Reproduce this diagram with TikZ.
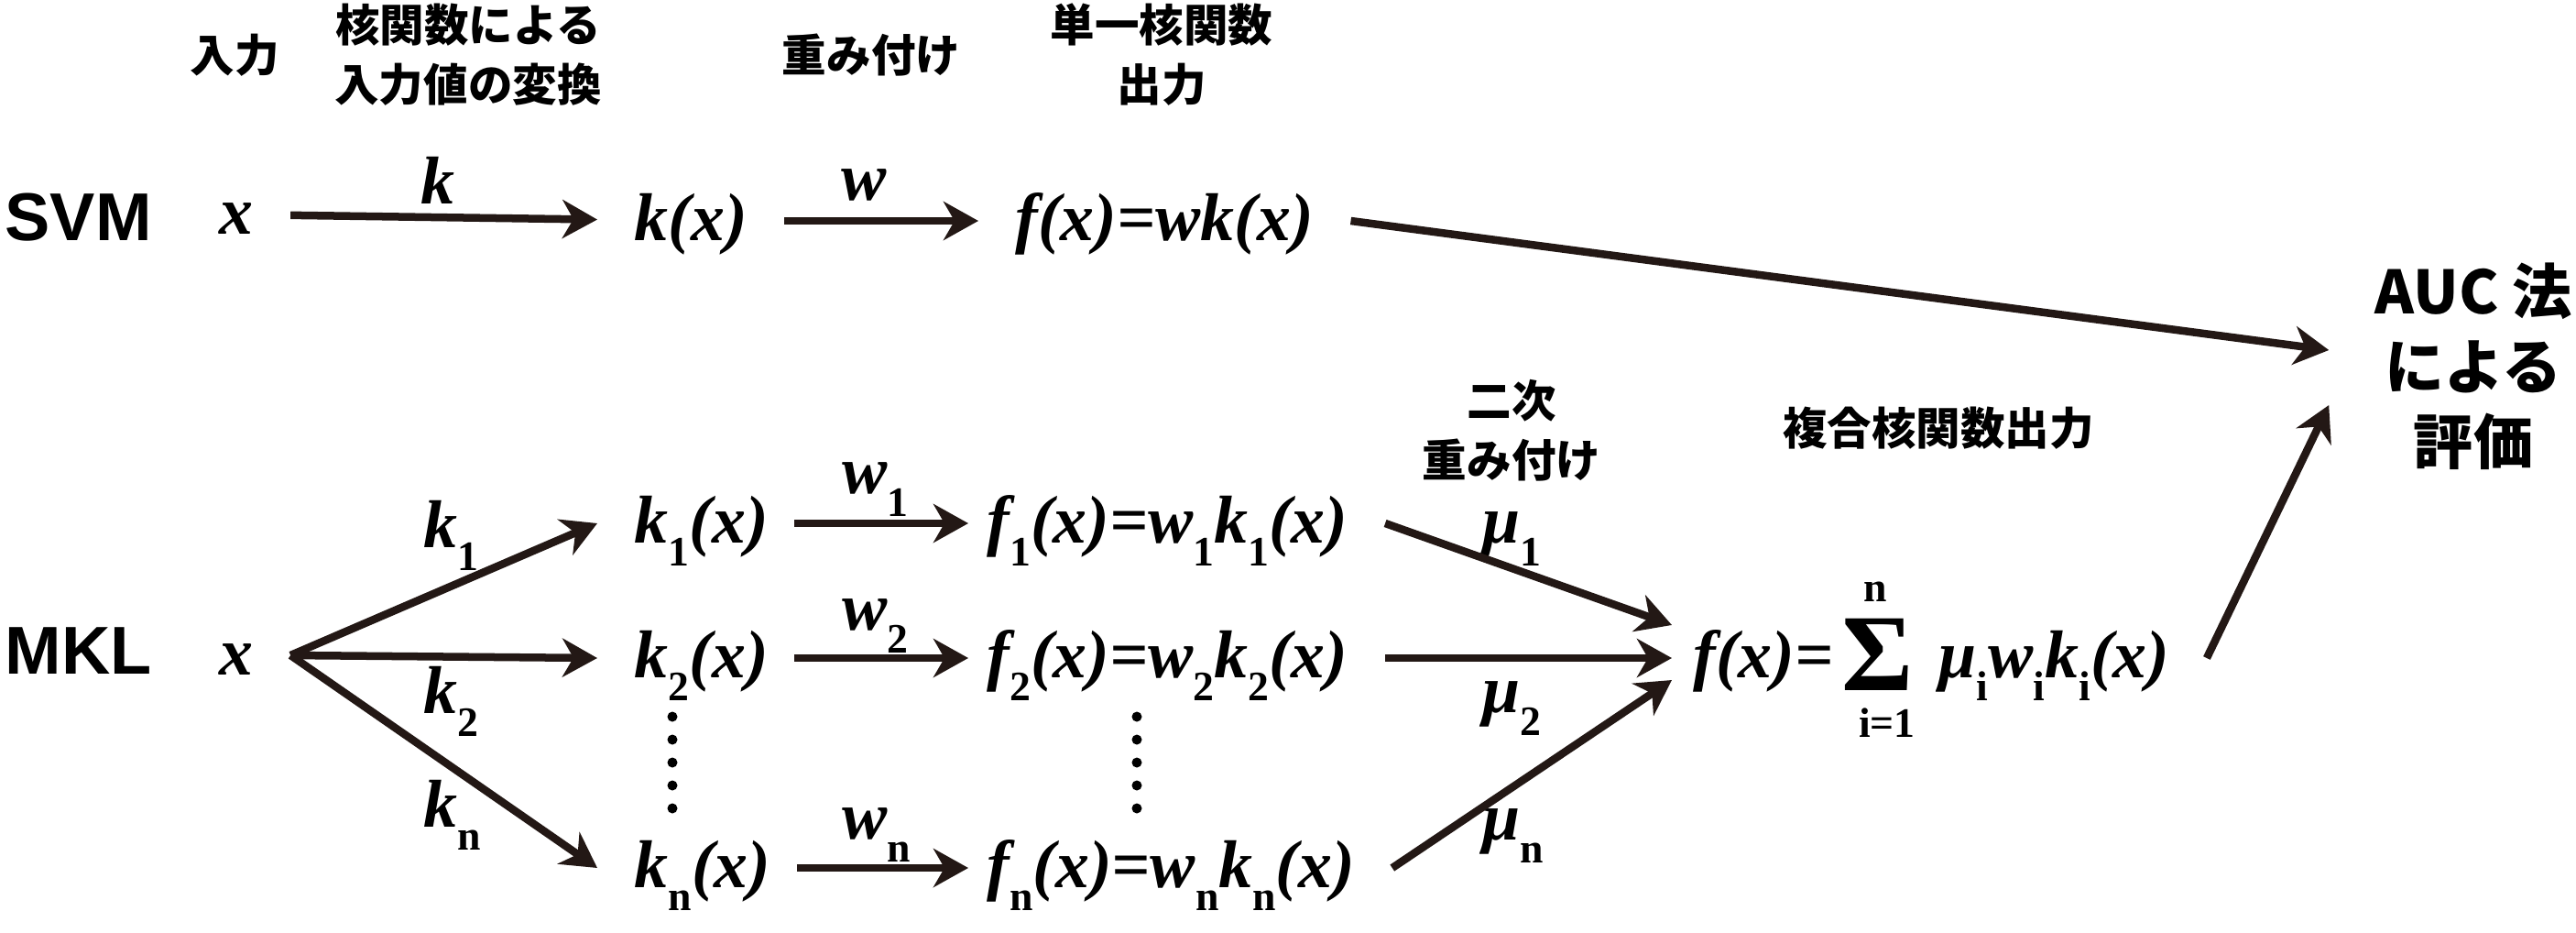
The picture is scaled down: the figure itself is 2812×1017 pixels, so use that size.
\documentclass[tikz,border=0pt]{standalone}
\usepackage{fontspec}
\setmainfont{Liberation Serif}
\setsansfont{Liberation Sans}
\newfontfamily\jpfont{Noto Sans CJK JP}
\usetikzlibrary{arrows.meta}
\definecolor{ink}{HTML}{231815}
\newcommand{\lowidx}[1]{\raisebox{-0.34em}{\fontsize{13}{13}\selectfont\upshape #1}}
\tikzstyle{arrow} = [line width=0.085cm, ink, -{Stealth[length=0.38cm,width=0.42cm,inset=0.12cm]}]
\tikzstyle{term} = [font=\fontsize{21}{25}\selectfont\bfseries\itshape, inner xsep=0.4cm, inner ysep=0pt, text height=0.56cm, text depth=0.14cm]
\tikzstyle{lbl} = [font=\fontsize{21}{25}\selectfont\bfseries\itshape, inner sep=0pt]
\tikzstyle{idx} = [font=\fontsize{13}{13}\selectfont\bfseries, inner sep=0pt]
\tikzstyle{head} = [font=\jpfont\bfseries\fontsize{13.8}{18.5}\selectfont, align=center, inner sep=0pt]
\tikzstyle{model} = [font=\sffamily\bfseries\fontsize{21}{25}\selectfont, inner sep=0pt]

\begin{document}
\begin{tikzpicture}[x=0.01cm,y=-0.01cm]
    \useasboundingbox (0,0) rectangle (2812,1017);
    \node[head] (hin) at (256,60) {入力};
    \node[head] (hker) at (511,60) {核関数による\\入力値の変換};
    \node[head] (hwt) at (951,60) {重み付け};
    \node[head] (hout) at (1268,60) {単一核関数\\出力};
    \node[head] (hwt2) at (1650,470) {二次\\重み付け};
    \node[head] (hcomb) at (2116,467) {複合核関数出力};
    \node[font=\jpfont\bfseries\fontsize{18.5}{23.3}\selectfont, align=center,
          minimum width=3.14cm, inner sep=0pt] (auc) at (2700,400) {AUC 法\\による\\評価};
    \begin{scope}
        \node[model, anchor=base west] (svm) at (5,262) {SVM};
        \node[term, anchor=base] (sx) at (258,255) {x};
        \node[term, anchor=base west] (skx) at (652,262) {k(x)};
        \node[term, anchor=base west] (sfx) at (1068,262) {f(x)=wk(x)};
        \node[lbl, anchor=base] (sk) at (478,222) {k};
        \node[lbl, anchor=base] (sw) at (943,218) {w};
        \draw[arrow] (sx) -- (skx);
        \draw[arrow] (skx) -- (sfx);
        \draw[arrow] (sfx.east) -- ([yshift=0.18cm]auc.west);
    \end{scope}
    \begin{scope}
        \node[model, anchor=base west] (mkl) at (5,735) {MKL};
        \node[term, anchor=base] (mx) at (258,736) {x};
        \node[term, anchor=base west] (k1x) at (652,592) {k\lowidx{1}(x)};
        \node[term, anchor=base west] (k2x) at (652,739) {k\lowidx{2}(x)};
        \node[term, anchor=base west] (knx) at (652,968) {k\lowidx{n}(x)};
        \node[term, anchor=base west] (f1x) at (1037,592) {f\lowidx{1}(x)=w\lowidx{1}k\lowidx{1}(x)};
        \node[term, anchor=base west] (f2x) at (1037,739) {f\lowidx{2}(x)=w\lowidx{2}k\lowidx{2}(x)};
        \node[term, anchor=base west] (fnx) at (1037,968) {f\lowidx{n}(x)=w\lowidx{n}k\lowidx{n}(x)};
        \node[lbl, anchor=base west] (lk1) at (462,597) {k\lowidx{1}};
        \node[lbl, anchor=base west] (lk2) at (462,778) {k\lowidx{2}};
        \node[lbl, anchor=base west] (lkn) at (462,902) {k\lowidx{n}};
        \node[lbl, anchor=base west] (lw1) at (919,538) {w\lowidx{1}};
        \node[lbl, anchor=base west] (lw2) at (919,687) {w\lowidx{2}};
        \node[lbl, anchor=base west] (lwn) at (919,915) {w\lowidx{n}};
        \node[lbl, anchor=base west] (lm1) at (1618,592) {μ\lowidx{1}};
        \node[lbl, anchor=base west] (lm2) at (1618,777) {μ\lowidx{2}};
        \node[lbl, anchor=base west] (lmn) at (1618,916) {μ\lowidx{n}};
        \node[term, anchor=base west, inner xsep=0.23cm] (fsum) at (1825,739) {f(x)=};
        \node[lbl, anchor=base west, font=\fontsize{34}{34}\selectfont\bfseries] (sigma) at (2010,753) {Σ};
        \node[idx, anchor=base] (stop) at (2047,656) {n};
        \node[idx, anchor=base] (sbot) at (2060,804) {i=1};
        \node[term, anchor=base west] (srest) at (2076,739) {μ\lowidx{i}w\lowidx{i}k\lowidx{i}(x)};
        \foreach \y in {782,807,832,857,882} {
            \fill (734,\y) circle (0.055cm);
            \fill (1241,\y) circle (0.055cm);
        }
        \draw[arrow] (mx.east) -- (k1x.west);
        \draw[arrow] (mx.east) -- (k2x.west);
        \draw[arrow] (mx.east) -- (knx.west);
        \foreach \a/\b in {k1x/f1x,k2x/f2x,knx/fnx}
            \draw[arrow, shorten <=-0.12cm, shorten >=-0.2cm] (\a) -- (\b);
        \draw[arrow] (f1x.east) -- ([yshift=0.36cm]fsum.west);
        \draw[arrow] (f2x.east) -- (fsum.west);
        \draw[arrow] (fnx.east) -- ([yshift=-0.24cm]fsum.west);
        \draw[arrow] (srest.east) -- ([yshift=-0.42cm]auc.west);
    \end{scope}
\end{tikzpicture}
\end{document}
